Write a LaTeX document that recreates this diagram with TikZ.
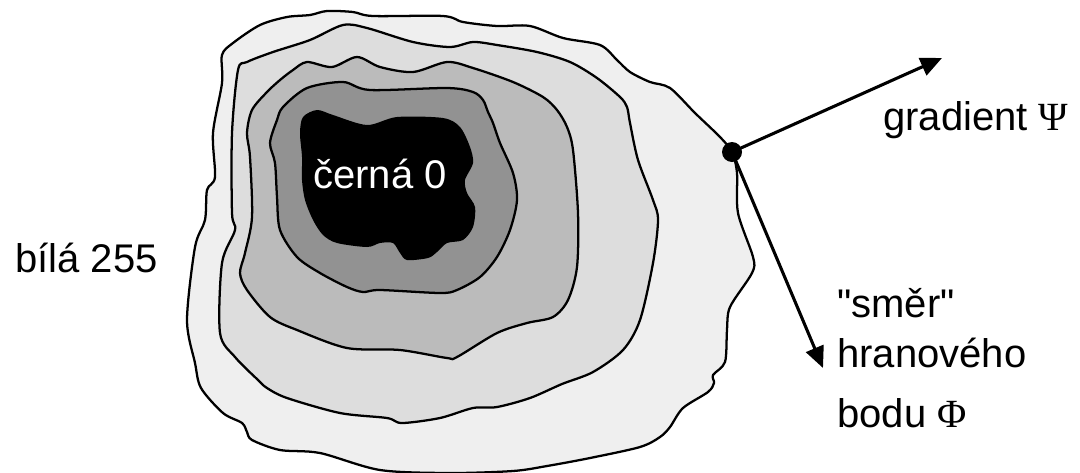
\documentclass[tikz,border=0pt]{standalone}
\usepackage{fontspec}
\setmainfont{Liberation Sans}
\newfontfamily\qf{Liberation Sans}
\newfontfamily\grk{Liberation Serif}
\usetikzlibrary{arrows.meta}
\definecolor{c1}{RGB}{239,239,239}
\definecolor{c2}{RGB}{221,221,221}
\definecolor{c3}{RGB}{187,187,187}
\definecolor{c4}{RGB}{146,146,146}
\tikzset{
  contour/.style={draw=black, line width=1.7pt, line join=round},
  lbl/.style={anchor=base west, inner sep=0pt, font=\fontsize{30}{36}\selectfont},
  vec/.style={line width=2.3pt, -{Triangle[length=16pt,width=14pt]}, shorten >=0pt},
  dotn/.style={circle, fill=black, inner sep=0pt, minimum size=15pt}
}
\begin{document}
\begin{tikzpicture}[x=0.75pt,y=-0.75pt]
\useasboundingbox (0,0) rectangle (1080,472);
% outer (lightest)
\path[contour, fill=c1] plot[smooth cycle, tension=0.5] coordinates {
(222,55) (233,43) (260,25) (287,17) (310,15) (327,11) (353,12) (373,16) (443,16) (463,22) (497,26) (530,26) (563,38) (600,45) (617,60) (630,72) (650,82) (670,88) (695,113) (720,137) (732,152) (737,173) (738,213) (753,257) (752,273) (730,307) (727,330) (725,362) (713,375) (714,383) (708,392) (683,408) (670,427) (660,437) (640,447) (590,458) (547,466) (513,471) (450,473) (380,470) (320,453) (280,450) (252,440) (247,432) (242,423) (223,413) (201,388) (195,363) (187,320) (195,247) (205,220) (207,190) (215,177) (213,133) (222,83)};
% second
\path[contour, fill=c2] plot[smooth cycle, tension=0.5] coordinates {
(238,70) (247,62) (273,52) (310,40) (343,25) (367,28) (413,42) (450,47) (473,42) (497,45) (537,52) (570,62) (597,78) (620,97) (627,107) (630,123) (638,160) (653,200) (658,220) (653,263) (640,320) (623,350) (593,372) (562,384) (530,398) (497,407) (473,408) (440,418) (402,423) (387,418) (340,413) (287,398) (267,388) (258,380) (235,357) (220,333) (222,263) (235,230) (232,213) (232,133)};
% third
\path[contour, fill=c3] plot[smooth cycle, tension=0.5] coordinates {
(252,110) (267,92) (280,80) (293,70) (307,62) (332,67) (357,57) (380,67) (413,72) (447,62) (473,68) (513,82) (543,97) (557,110) (567,127) (573,150) (578,213) (577,267) (568,300) (553,317) (527,323) (497,333) (457,357) (447,358) (400,350) (347,348) (297,330) (270,317) (247,290) (240,273) (245,253) (252,217) (250,157) (247,133)};
% fourth
\path[contour, fill=c4] plot[smooth cycle, tension=0.5] coordinates {
(270,143) (277,120) (283,107) (307,88) (343,82) (370,90) (447,88) (473,92) (483,100) (488,112) (493,123) (500,143) (513,173) (517,200) (510,230) (497,257) (480,277) (457,290) (440,293) (380,290) (363,292) (347,287) (320,273) (297,257) (280,230) (277,197) (275,163)};
% black core
\path[fill=black] plot[smooth cycle, tension=0.5] coordinates {
(303,117) (317,110) (333,115) (367,125) (397,117) (443,118) (460,127) (470,147) (473,163) (465,180) (467,193) (475,207) (473,227) (463,240) (447,243) (437,252) (428,258) (407,260) (400,253) (393,243) (380,243) (367,247) (337,243) (323,235) (313,220) (305,200) (302,180) (302,157) (300,133)};
% labels
\node[lbl, text=white] (cerna) at (313,188) {černá 0};
\node[lbl] (bila) at (15,272) {bílá 255};
\node[lbl] (grad) at (883,130) {gradient {\grk Ψ}};
\node[lbl] (smer1) at (837,317) {{\qf "}směr{\qf "}};
\node[lbl] (smer2) at (837,367) {hranového};
\node[lbl] (smer3) at (837,427) {bodu {\grk Φ}};
% edge point and vectors
\node[dotn] (p) at (732,152) {};
\coordinate (g) at (942,58);
\coordinate (d) at (823,368);
\draw[vec] (p.center) -- (g);
\draw[vec] (p.center) -- (d);
\end{tikzpicture}
\end{document}
